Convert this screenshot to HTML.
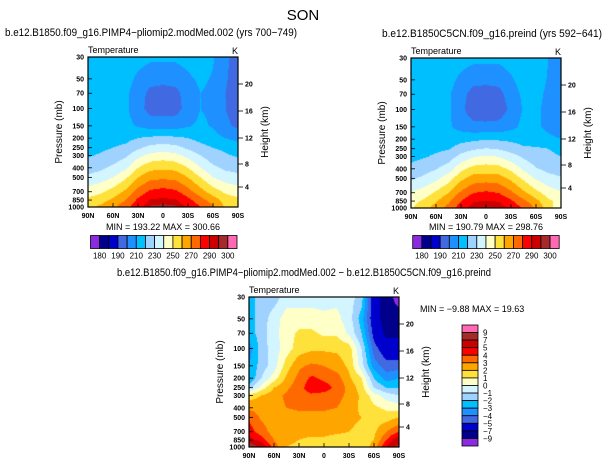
<!DOCTYPE html>
<html><head><meta charset="utf-8"><style>
html,body{margin:0;padding:0;background:#fff;}
#wrap{position:relative;width:607px;height:466px;overflow:hidden;font-family:"Liberation Sans",Arial,sans-serif;}
canvas{position:absolute;}
svg{position:absolute;left:0;top:0;}
</style></head><body>
<div id="wrap">
<canvas id="c1" width="150" height="150" style="left:88px;top:57px"></canvas>
<canvas id="c2" width="150" height="150" style="left:411px;top:58px"></canvas>
<canvas id="c3" width="150" height="150" style="left:249px;top:297px"></canvas>
<svg id="s" width="607" height="466"></svg>
</div>
<script>
const lats=["90N","75N","60N","45N","30N","15N","0","15S","30S","45S","60S","75S","90S"];
const pressures=[30,50,70,100,150,200,250,300,400,500,700,850,1000];
const tempA=[
[209,214,216,216,214,212,212,212,214,218,211,202,196],
[214,215,215,214,208,204,203,204,208,212,209,201,195],
[215,215,214,212,205,197,196,197,205,210,208,200,195],
[214,214,214,212,204,196,195,196,204,210,208,200,195],
[213,214,215,213,209,206,206,206,209,212,209,202,198],
[214,216,217,217,220,222,223,222,220,217,214,210,207],
[217,218,220,222,228,233,235,233,228,223,220,218,216],
[219,221,224,228,237,243,245,243,237,230,224,221,219],
[225,228,232,238,250,257,258,257,250,240,232,228,226],
[232,235,240,248,260,267,268,267,260,250,240,235,233],
[245,248,254,262,274,282,284,282,274,264,255,248,245],
[252,256,262,270,282,291,292,291,283,274,265,256,252],
[258,262,268,276,287,296,297,296,289,280,272,258,252]];
const diff=[
[-2.5,-1.5,-1.5,-0.5,-0.5,-0.5,-0.5,-0.3,-0.5,-1.5,-6,-8,-10],
[-2.5,-1.5,-0.5,0.5,0.5,0.5,0.3,0.3,-0.5,-2.5,-6,-8,-8],
[-2.5,-1.5,-0.3,0.5,1.2,1.2,0.8,0.8,-0.2,-2,-5.5,-7.5,-7.5],
[-3.5,-1.5,-0.5,0.5,1.5,1.8,1.8,1.8,1.5,-1,-4.5,-6,-6],
[-3,-1.5,-0.5,1.5,2.8,3.2,3,2.5,1.8,-0.5,-3.5,-4.5,-4.5],
[-3,-1,0.5,2.2,3.3,4.2,3.8,3.5,2.2,1,-2,-3.5,-3],
[-1.5,0.5,2,2.8,3.6,4.6,4.4,3.8,2.7,1.5,-1,-2,-2],
[1.5,2,2.6,3.2,3.6,3.8,3.7,3.4,2.7,1.8,0.5,-0.5,-1],
[2.8,2.6,2.6,3,3.2,3.2,3.2,3,2.5,1.8,1.2,0.8,0.5],
[3.8,2.8,2.5,2.5,2.6,2.6,2.6,2.5,2.2,2,1.5,1.5,2],
[4.5,3.5,2.5,2.2,2.3,2.3,2.3,2.2,2,1.8,1.8,3,4],
[5.5,4.5,3,2.2,2,1.8,1.8,1.5,1.5,1.5,2,4,6],
[9.5,6,3.5,2,1.8,1.5,1.2,1,1,1.2,2.5,5,8]];
const tempLevels=[180,185,190,200,210,220,230,240,250,260,270,280,290,295,300];
const tempLabels=["180","190","210","230","250","270","290","300"];
const diffLevels=[-9,-7,-5,-4,-3,-2,-1,0,1,2,3,4,5,7,9];
const diffLabels=["9","7","5","4","3","2","1","0","\u22121","\u22122","\u22123","\u22124","\u22125","\u22127","\u22129"];
const pTicks=[30,50,70,100,150,200,250,300,400,500,700,850,1000];
const hTicks=[20,16,12,8,4];
const colors=["#8a2be2","#00008b","#0000cd","#4169e1","#1e90ff","#00bfff","#a0d2ff","#d2f5ff","#ffffc8","#ffe13c","#ffa500","#ff6a00","#ff0000","#cd0000","#a52a2a","#ff69b4"];
const tempB=tempA.map((r,i)=>r.map((v,j)=>v-diff[i][j]));

const N=150, L30=Math.log(30), LR=Math.log(1000/30);
function yOf(p){return (Math.log(p)-L30)/LR*N;}
function colorFor(v,lev){let k=0;while(k<lev.length&&v>=lev[k])k++;return colors[k];}
function draw(id,grid,lev){
  const ctx=document.getElementById(id).getContext('2d');
  const ry=pressures.map(yOf);
  for(let j=0;j<N;j++){
    const y=j+0.5;let k=0;while(k<ry.length-2&&y>ry[k+1])k++;
    const t=Math.min(1,Math.max(0,(y-ry[k])/(ry[k+1]-ry[k])));
    for(let i=0;i<N;i++){
      const f=(i+0.5)/N*12;const a=Math.min(11,Math.floor(f));const u=f-a;
      const v=(1-t)*((1-u)*grid[k][a]+u*grid[k][a+1])+t*((1-u)*grid[k+1][a]+u*grid[k+1][a+1]);
      ctx.fillStyle=colorFor(v,lev);ctx.fillRect(i,j,1,1);
    }
  }
}
draw('c1',tempA,tempLevels);draw('c2',tempB,tempLevels);draw('c3',diff,diffLevels);

const S=document.getElementById('s');const NS='http://www.w3.org/2000/svg';
function el(tag,attrs,txt){const e=document.createElementNS(NS,tag);for(const k in attrs)e.setAttribute(k,attrs[k]);if(txt!==undefined)e.textContent=txt;S.appendChild(e);return e;}
// height axis (km) -> pixel offset within frame, piecewise linear through the standard-atmosphere positions
function yOfH(h){const hk=[0,4,8,12,16,20,24],py=[150,130,107,81,54,27,0];
  let k=0;while(k<hk.length-2&&h>hk[k+1])k++;return py[k]+(h-hk[k])/(hk[k+1]-hk[k])*(py[k+1]-py[k]);}

function axes(x0,y0,title,tx,tw,tag){
  let e;
  e=el('text',{x:tx,y:y0-21,'font-size':11,textLength:tw,lengthAdjust:'spacingAndGlyphs'},title);
  
  
  e=el('text',{x:x0,y:y0-4,'font-size':9},'Temperature');
  
  
  e=el('text',{x:x0+150,y:y0-3,'font-size':9,'text-anchor':'end'},'K');
  
  
  e=el('rect',{x:x0,y:y0,width:150,height:150,fill:'none',stroke:'#000','stroke-width':1.2});
  
  
  pTicks.forEach(p=>{const y=y0+yOf(p);
    const t=el('text',{x:x0-4,y:y+2.5,'font-size':7,'font-weight':'bold','text-anchor':'end'},String(p));
    
    
    el('line',{x1:x0,x2:x0+4,y1:y,y2:y,stroke:'#000','stroke-width':0.8});});
  hTicks.forEach(h=>{const y=y0+yOfH(h);
    el('line',{x1:x0+150,x2:x0+155,y1:y,y2:y,stroke:'#000','stroke-width':0.8});
    const t=el('text',{x:x0+157,y:y+2.5,'font-size':7,'font-weight':'bold'},String(h));
    
    });
  ["90N","60N","30N","0","30S","60S","90S"].forEach((l,i)=>{const x=x0+i*25;
    el('line',{x1:x,x2:x,y1:y0+150,y2:y0+146,stroke:'#000','stroke-width':0.8});
    const t=el('text',{x:x,y:y0+161,'font-size':7,'font-weight':'bold','text-anchor':'middle'},l);
    
    });
  e=el('text',{x:0,y:0,'font-size':10,'text-anchor':'middle',transform:`translate(${x0-26},${y0+75}) rotate(-90)`},'Pressure (mb)');
  
  
  e=el('text',{x:0,y:0,'font-size':10,'text-anchor':'middle',transform:`translate(${x0+180},${y0+75}) rotate(-90)`},'Height (km)');
  
  
}
let e=el('text',{x:303,y:20,'font-size':15,'text-anchor':'middle'},'SON');


axes(88,57,'b.e12.B1850.f09_g16.PIMP4\u2212pliomip2.modMed.002 (yrs 700\u2212749)',5,292,'pliomip');
axes(411,58,'b.e12.B1850C5CN.f09_g16.preind (yrs 592\u2212641)',382,220,'preind');
axes(249,297,'b.e12.B1850.f09_g16.PIMP4\u2212pliomip2.modMed.002 \u2212 b.e12.B1850C5CN.f09_g16.preind',117,374,'difference');

e=el('text',{x:163,y:230,'font-size':9,'text-anchor':'middle'},'MIN = 193.22   MAX = 300.66');


e=el('text',{x:486,y:230,'font-size':9,'text-anchor':'middle'},'MIN = 190.79   MAX = 298.76');


e=el('text',{x:420,y:312,'font-size':9},'MIN =  \u22129.88   MAX =  19.63');



function hbar(x0,y0,tag){
  const w=146.5/16;
  colors.forEach((c,i)=>{const r=el('rect',{x:x0+i*w,y:y0,width:w,height:13,fill:c,stroke:'#000','stroke-width':0.8});
    
    });
  tempLabels.forEach((l,i)=>{const t=el('text',{x:x0+(2*i+1)*w,y:y0+23,'font-size':8,'text-anchor':'middle'},l);
    
    });
}
hbar(90.5,235.5,'pliomip');hbar(412.7,235.5,'preind');
const vh=121/16;
colors.slice().reverse().forEach((c,i)=>{const r=el('rect',{x:462,y:325+i*vh,width:16,height:vh,fill:c,stroke:'#000','stroke-width':0.8});
  
  });
diffLabels.forEach((l,i)=>{const t=el('text',{x:483,y:325+(i+1)*vh+3,'font-size':8},l);
  
  });
</script>
</body></html>
